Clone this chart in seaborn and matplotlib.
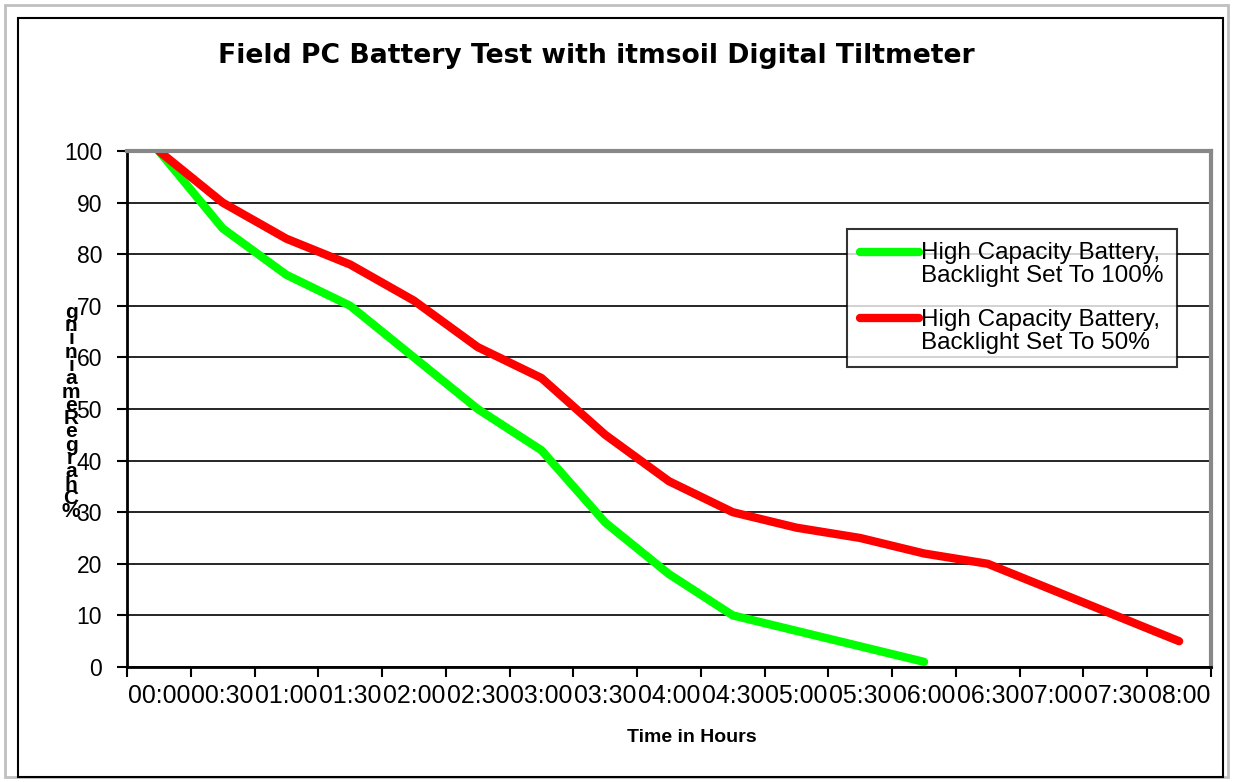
import numpy as np
import pandas as pd
import matplotlib
matplotlib.use("Agg")
import matplotlib.pyplot as plt
from matplotlib.patches import Rectangle
from matplotlib.lines import Line2D
from matplotlib.legend_handler import HandlerLine2D
import seaborn as sns

# Data
time_labels = ['00:00', '00:30', '01:00', '01:30', '02:00', '02:30', '03:00', '03:30',
               '04:00', '04:30', '05:00', '05:30', '06:00', '06:30', '07:00', '07:30', '08:00']
backlight_100 = [100, 85, 76, 70, 60, 50, 42, 28, 18, 10, 7, 4, 1]
backlight_50 = [100, 90, 83, 78, 71, 62, 56, 45, 36, 30, 27, 25, 22, 20, 15, 10, 5]
series_names = ['High Capacity Battery,\nBacklight Set To 100%',
                'High Capacity Battery,\nBacklight Set To 50%']
series_colors = ['#00FF00', '#FF0000']

df = pd.concat([
    pd.DataFrame({'idx': range(len(backlight_100)), 'charge': backlight_100, 'series': series_names[0]}),
    pd.DataFrame({'idx': range(len(backlight_50)), 'charge': backlight_50, 'series': series_names[1]}),
])


# legend line sits next to the first text line, like Excel does
class TopLine(HandlerLine2D):
    def create_artists(self, legend, orig_handle, xdescent, ydescent, width, height, fontsize, trans):
        arts = super().create_artists(legend, orig_handle, xdescent, ydescent, width, height, fontsize, trans)
        for a in arts:
            a.set_ydata(np.asarray(a.get_ydata()) + 9.5)
        return arts


sns.set_style('white')
plt.rcParams['font.family'] = ['Liberation Sans', 'DejaVu Sans']
plt.rcParams['text.color'] = 'black'
plt.rcParams['xtick.color'] = 'black'
plt.rcParams['ytick.color'] = 'black'

W, H = 1233, 782
fig = plt.figure(figsize=(W / 100, H / 100), dpi=100)
ax = fig.add_axes([127 / W, 1 - 667 / H, (1211 - 127) / W, (667 - 151) / H])

for name, col in zip(series_names, series_colors):
    sub = df[df['series'] == name]
    sns.lineplot(data=sub, x='idx', y='charge', color=col, lw=6, ax=ax, label=name,
                 solid_capstyle='round', solid_joinstyle='round')

n = len(time_labels)
ax.set_xlim(-0.5, n - 0.5)
ax.set_ylim(0, 100)
ax.set_yticks(range(0, 101, 10))
ax.tick_params(axis='y', labelsize=16.5, length=7, width=1.5, direction='out', left=True, pad=11)

# category axis: ticks on the boundaries, labels in the middle
ax.set_xticks(np.arange(-0.5, n, 1.0))
ax.set_xticklabels([])
ax.set_xticks(np.arange(n), minor=True)
ax.set_xticklabels(time_labels, minor=True)
ax.tick_params(axis='x', which='major', length=7, width=1.5, direction='out', bottom=True)
ax.tick_params(axis='x', which='minor', length=0, labelsize=17.9, pad=12)

ax.grid(axis='y', color='black', lw=1.2)
ax.grid(axis='x', visible=False)
ax.set_axisbelow(True)
for side in ['left', 'bottom']:
    ax.spines[side].set_color('black')
    ax.spines[side].set_linewidth(2)
for side in ['top', 'right']:
    ax.spines[side].set_color('#888888')
    ax.spines[side].set_linewidth(3)

ax.set_xlabel('')
ax.set_ylabel('')
fig.text(692 / W, 1 - 738 / H, 'Time in Hours', ha='center', va='center',
         fontsize=14, fontweight='bold')

# stacked y label, read from bottom to top
ylab = '%ChargeRemaining'
fig.text(71 / W, 1 - 412 / H, '\n'.join(reversed(ylab)), ha='center', va='center',
         fontsize=15, fontweight='bold', linespacing=0.62, multialignment='center')

fig.text(596 / W, 1 - 56 / H, 'Field PC Battery Test with itmsoil Digital Tiltmeter',
         ha='center', va='center', fontsize=19.2, fontweight='bold', family='DejaVu Sans')

leg = ax.legend(loc='upper left', bbox_to_anchor=((847 - 127) / (1211 - 127), (667 - 229) / (667 - 151)),
                fontsize=17.5, frameon=True, fancybox=False, handlelength=2.4,
                handletextpad=0.08, borderpad=0.55, labelspacing=0.9, borderaxespad=0,
                handler_map={Line2D: TopLine()})
leg.get_frame().set_edgecolor('black')
leg.get_frame().set_linewidth(1.5)
for t in leg.get_texts():
    t.set_linespacing(1.05)
for line in leg.get_lines():
    line.set_linewidth(6)
    line.set_solid_capstyle('round')

# chart frame and outer border
fig.patches.append(Rectangle((5 / W, 5 / H), 1 - 10 / W, 1 - 10 / H, transform=fig.transFigure,
                             fill=False, edgecolor='#c0c0c0', lw=2))
fig.patches.append(Rectangle((18 / W, 1 - 777 / H), (1223 - 18) / W, (777 - 18) / H,
                             transform=fig.transFigure, fill=False, edgecolor='black', lw=1.5))

fig.savefig('out.png', dpi=100)
